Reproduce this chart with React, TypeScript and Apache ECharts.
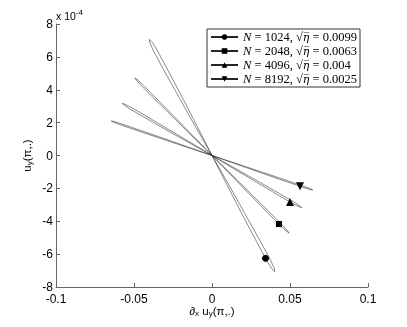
import React, { useEffect, useRef } from "react";
import * as echarts from "echarts";

type P = [number, number];

// y values in units of 1e-4
const curveN1024: P[] = [
  [0, 0], [0.0107, -1.77], [0.0211, -3.54], [0.0315, -5.3], [0.0375, -6.36], [0.0399, -6.86],
  [0.0402, -7.07],
  [0.0381, -6.86], [0.0349, -6.36], [0.0343, -6.25], [0.0289, -5.3], [0.0191, -3.54], [0.0095, -1.77],
  [0, 0], [-0.0107, 1.77], [-0.0211, 3.54], [-0.0315, 5.3], [-0.0375, 6.36], [-0.0399, 6.86],
  [-0.0402, 7.07],
  [-0.0381, 6.86], [-0.0349, 6.36], [-0.0289, 5.3], [-0.0191, 3.54], [-0.0095, 1.77], [0, 0],
];
const curveN2048: P[] = [
  [0, 0], [0.0128, -1.18], [0.0253, -2.36], [0.0379, -3.54], [0.0453, -4.25], [0.0484, -4.58],
  [0.0494, -4.72],
  [0.0474, -4.58], [0.0437, -4.25], [0.0429, -4.17], [0.0363, -3.54], [0.0241, -2.36], [0.012, -1.18],
  [0, 0], [-0.0128, 1.18], [-0.0253, 2.36], [-0.0379, 3.54], [-0.0453, 4.25], [-0.0484, 4.58],
  [-0.0494, 4.72],
  [-0.0474, 4.58], [-0.0437, 4.25], [-0.0363, 3.54], [-0.0241, 2.36], [-0.012, 1.18], [0, 0],
];
const curveN4096: P[] = [
  [0, 0], [0.0144, -0.758], [0.0288, -1.53], [0.0431, -2.308], [0.0518, -2.783], [0.0558, -3.03],
  [0.0575, -3.17],
  [0.0558, -3.12], [0.0518, -2.923], [0.05, -2.825], [0.0431, -2.448], [0.0288, -1.64], [0.0144, -0.828],
  [0, 0], [-0.0144, 0.758], [-0.0288, 1.53], [-0.0431, 2.308], [-0.0518, 2.783], [-0.0558, 3.03],
  [-0.0575, 3.17],
  [-0.0558, 3.12], [-0.0518, 2.923], [-0.0431, 2.448], [-0.0288, 1.64], [-0.0144, 0.828], [0, 0],
];
const curveN8192: P[] = [
  [0, 0], [0.0162, -0.505], [0.0323, -1.02], [0.0485, -1.535], [0.0581, -1.85], [0.0627, -2.007],
  [0.0646, -2.1],
  [0.0627, -2.067], [0.0581, -1.93], [0.0564, -1.874], [0.0485, -1.615], [0.0323, -1.08], [0.0162, -0.545],
  [0, 0], [-0.0162, 0.505], [-0.0323, 1.02], [-0.0485, 1.535], [-0.0581, 1.85], [-0.0627, 2.007],
  [-0.0646, 2.1],
  [-0.0627, 2.067], [-0.0581, 1.93], [-0.0485, 1.615], [-0.0323, 1.08], [-0.0162, 0.545], [0, 0],
];
const markerIndex = 9;

const seriesNames = [
  "N = 1024, √η = 0.0099",
  "N = 2048, √η = 0.0063",
  "N = 4096, √η = 0.004",
  "N = 8192, √η = 0.0025",
];
const seriesNs = ["1024", "2048", "4096", "8192"];
const seriesEtas = ["0.0099", "0.0063", "0.004", "0.0025"];
const curves = [curveN1024, curveN2048, curveN4096, curveN8192];
const markerSymbols = ["circle", "rect", "triangle", "triangle"];
const markerRotations = [0, 0, 0, 180];
const markerSizes = [7, 6, 8, 8];

const xTicks = [-0.1, -0.05, 0, 0.05, 0.1];
const yTicks = [-8, -6, -4, -2, 0, 2, 4, 6, 8];

export default function App() {
  const ref = useRef<HTMLDivElement>(null);
  useEffect(() => {
    if (!ref.current) return;
    const chart = echarts.init(ref.current, undefined, { renderer: "svg" });
    const lineColor = "#262626";
    const axisColor = "#666";
    const sans = "Liberation Sans";
    const series = curves.map((c, si) => ({
      name: seriesNames[si],
      type: "line",
      symbol: markerSymbols[si],
      symbolSize: markerSizes[si],
      symbolRotate: markerRotations[si],
      showSymbol: true,
      lineStyle: { color: lineColor, width: 0.55 },
      itemStyle: { color: "#000", borderWidth: 0 },
      data: c.map((p, i) =>
        i === markerIndex ? { value: p } : { value: p, symbol: "none" }
      ),
      z: 3,
    }));
    const subRich = {
      s: { fontFamily: sans, fontSize: 8, color: "#000", lineHeight: 8, verticalAlign: "bottom" },
    };
    chart.setOption({
      animation: false,
      grid: { left: 56, right: 39, top: 24, bottom: 40, containLabel: false },
      legend: {
        orient: "vertical",
        left: 207,
        top: 29,
        width: 150,
        padding: [1, 3, 1, 3],
        itemWidth: 27,
        itemHeight: 7,
        itemGap: 0,
        borderColor: "#333",
        borderWidth: 1,
        backgroundColor: "#fff",
        data: seriesNames,
        formatter: (name: string) => {
          const i = seriesNames.indexOf(name);
          return `{i|N} = ${seriesNs[i]}, √{e|η\u0305} = ${seriesEtas[i]}`;
        },
        textStyle: {
          fontFamily: "Liberation Serif",
          fontSize: 12.5,
          color: "#000",
          lineHeight: 14,
          rich: {
            i: { fontFamily: "Liberation Serif", fontStyle: "italic", fontSize: 12.5, lineHeight: 14 },
            e: { fontFamily: "DejaVu Serif", fontStyle: "italic", fontSize: 11, lineHeight: 14 },
          },
        },
      },
      xAxis: {
        type: "value",
        min: -0.1,
        max: 0.1,
        interval: 0.05,
        name: "∂{s|x} u{s|y}(π,.)",
        nameLocation: "middle",
        nameGap: 17,
        nameMoveOverlap: false,
        nameTextStyle: { rich: subRich, fontFamily: sans, fontSize: 11.5, lineHeight: 13, color: "#000" },
        axisLine: { show: true, onZero: false, lineStyle: { color: axisColor, width: 1 } },
        axisTick: { show: true, inside: true, length: 4, lineStyle: { color: axisColor } },
        axisLabel: {
          fontFamily: sans,
          fontSize: 12,
          lineHeight: 10,
          color: "#000",
          margin: 7,
          formatter: (v: number) => {
            const t = xTicks.find((k) => Math.abs(k - v) < 1e-9);
            return t === undefined ? "" : String(t);
          },
        },
        splitLine: { show: false },
      },
      yAxis: {
        type: "value",
        min: -8,
        max: 8,
        interval: 2,
        name: "u{s|y}(π,.)",
        nameLocation: "middle",
        nameGap: 23,
        nameRotate: 90,
        nameMoveOverlap: false,
        nameTextStyle: { rich: subRich, fontFamily: sans, fontSize: 11.5, lineHeight: 13, color: "#000" },
        axisLine: { show: true, onZero: false, lineStyle: { color: axisColor, width: 1 } },
        axisTick: { show: true, inside: true, length: 4, lineStyle: { color: axisColor } },
        axisLabel: {
          fontFamily: sans,
          fontSize: 12,
          lineHeight: 10,
          color: "#000",
          margin: 3,
          formatter: (v: number) => {
            const t = yTicks.find((k) => Math.abs(k - v) < 1e-9);
            return t === undefined ? "" : String(t);
          },
        },
        splitLine: { show: false },
      },
      graphic: [
        {
          type: "text",
          left: 56,
          top: 8,
          style: {
            text: "x 10{p|-4}",
            fontFamily: sans,
            fontSize: 10.5,
            fill: "#000",
            rich: {
              p: { fontFamily: sans, fontSize: 8, padding: [0, 0, 8, 0] },
            },
          },
        },
      ],
      series,
    });
    return () => chart.dispose();
  }, []);
  return (
    <div
      ref={ref}
      style={{ position: "fixed", left: 0, top: 0, width: 407, height: 327 }}
    />
  );
}
